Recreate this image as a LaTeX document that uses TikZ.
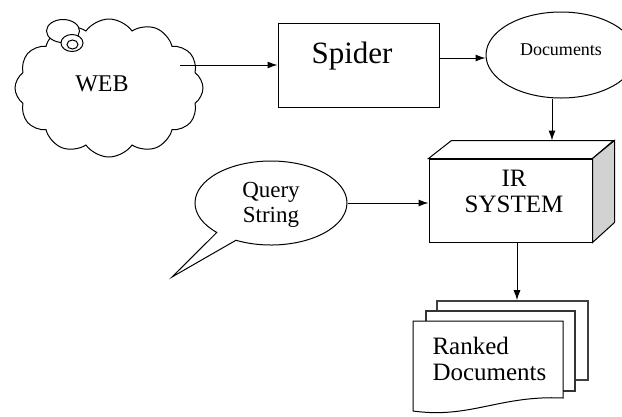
\documentclass[tikz,border=0pt]{standalone}
\usepackage{fontspec}
\setmainfont{Liberation Serif}
\usetikzlibrary{shapes.geometric,shapes.symbols,shapes.callouts,arrows.meta,calc}
\begin{document}
\begin{tikzpicture}[x=1pt,y=-1pt,line width=1pt,
  arr/.style={-{Latex[length=10pt,width=7pt]},line width=1pt},
  box/.style={draw,fill=white,inner sep=0pt},
  txt/.style={inner sep=0pt,align=center},
  page/.style={draw,fill=white,inner sep=0pt}]
\useasboundingbox (0,0) rectangle (622,416);
\clip (0,0) rectangle (622,416);
% WEB cloud
\node[cloud,draw,cloud puffs=12,cloud puff arc=110,aspect=1.35,minimum width=188pt,minimum height=138pt,inner sep=0pt] (web) at (109,88) {};
\node[draw,fill=white,ellipse,minimum width=33pt,minimum height=23pt,inner sep=0pt] (curlloop) at (63,31) {};
\node[draw,fill=white,ellipse,minimum width=22pt,minimum height=17pt,inner sep=0pt] (curl) at (72,43) {};
\node[draw,ellipse,minimum width=11pt,minimum height=9pt,inner sep=0pt] (curlin) at (72.5,44.5) {};
\node[txt,font=\fontsize{24}{26}\selectfont] (webtext) at (102,84) {WEB};
% Spider
\node[box,minimum width=161pt,minimum height=84pt] (spider) at (358.5,65) {};
\node[txt,font=\fontsize{31}{33}\selectfont] (spidertext) at (352,56) {Spider};
% Documents ellipse
\node[draw,ellipse,minimum width=150pt,minimum height=86pt,inner sep=0pt] (docs) at (561,55) {};
\node[txt,font=\fontsize{18}{20}\selectfont] (docstext) at (561,50) {Documents};
% IR system box
\node[box,minimum width=163pt,minimum height=83pt] (ir) at (510.5,200.5) {};
\draw[fill=white] (ir.north west) -- ++(23,-18) -- ++(162,0) -- (ir.north east) -- cycle;
\draw[fill=gray!35] (ir.north east) -- ++(22,-18) -- ++(0,82) -- (ir.south east) -- cycle;
\coordinate (irtop) at ($(ir.north)+(0,-18)$);
\node[txt,font=\fontsize{25}{26}\selectfont] (irtext) at (514,191) {IR\\SYSTEM};
% Query callout
\coordinate (qtip) at (172,277);
\node[draw,ellipse callout,minimum width=152pt,minimum height=84pt,inner sep=0pt,
  callout absolute pointer=(qtip),callout pointer arc=18] (query) at (271,203) {};
\node[txt,font=\fontsize{23}{25}\selectfont] (querytext) at (271,204.5) {Query\\String};
% Ranked documents
\node[page,draw=black!75,line width=1.6pt,minimum width=151pt,minimum height=79pt] (rk3) at (512.5,340.5) {};
\node[page,draw=black!80,line width=1.4pt,minimum width=149pt,minimum height=80pt] (rk2) at (500.5,351) {};
\coordinate (fpnw) at (413,321);
\draw[fill=white] (fpnw) -- (563,321) -- (563,398) .. controls (500,395) and (470,419) .. (413,411) -- cycle;
\node[inner sep=0pt,anchor=north west] (rk1) at (fpnw) {};
\node[txt,align=left,anchor=west,font=\fontsize{25}{26}\selectfont] (rankedtext) at (432,359) {Ranked\\Documents};
% connectors
\coordinate (webout) at (180,65);
\draw[arr] (webout) -- (spider.west);
\path (spider.east) ++(0,-7) coordinate (s2d);
\draw[arr] (s2d) -- (s2d -| docs.west);
\path (docs.south) ++(-9,0) coordinate (d2i);
\draw[arr] (d2i) -- (d2i |- irtop);
\draw[arr] (query.east) -- (query.east -| ir.west);
\path (ir.south) ++(6.5,0) coordinate (i2r);
\draw[arr] (i2r) -- (i2r |- rk3.north);
\end{tikzpicture}
\end{document}
